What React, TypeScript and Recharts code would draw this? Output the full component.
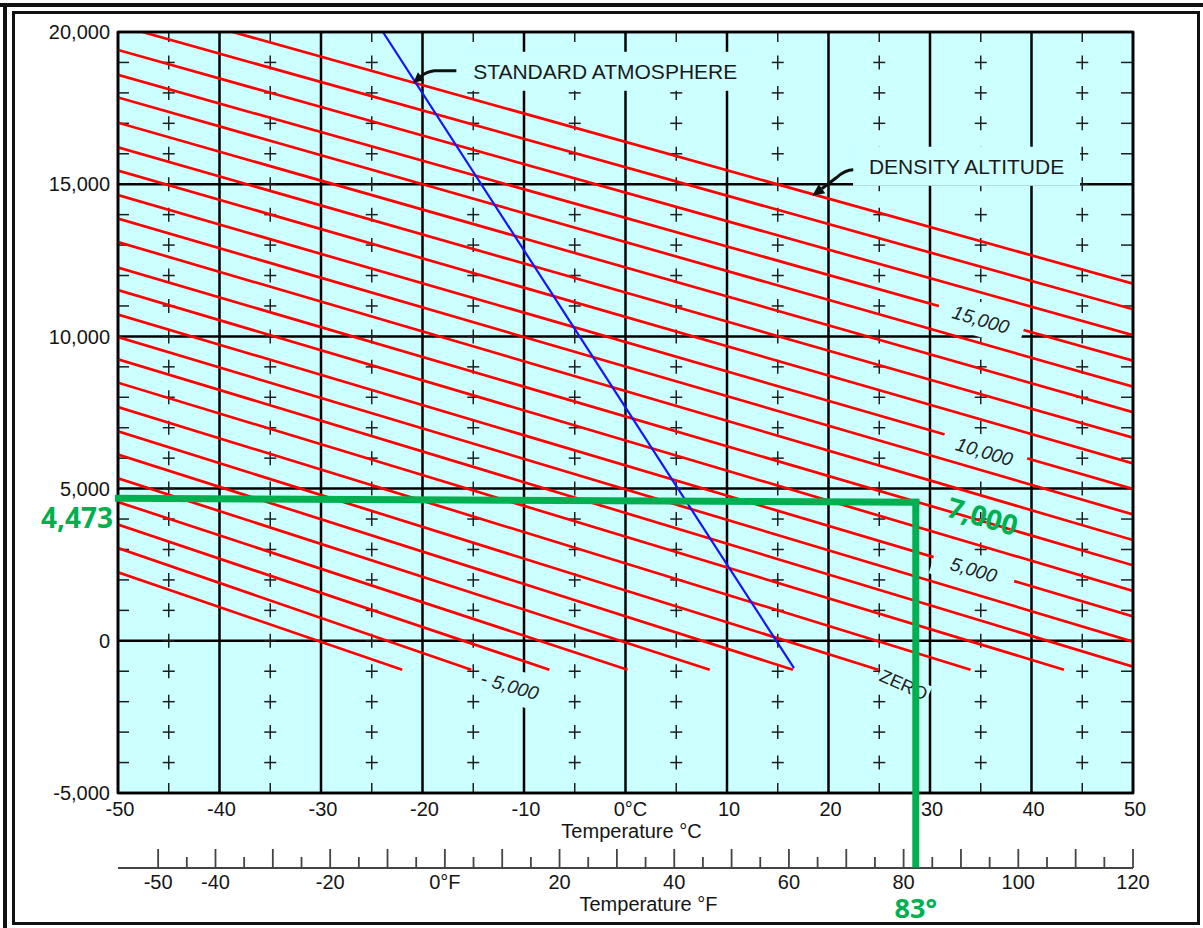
import React from 'react';
import {
  ComposedChart,
  Line,
  Scatter,
  XAxis,
  YAxis,
  CartesianGrid,
  ReferenceLine,
  ReferenceDot,
  ReferenceArea,
} from 'recharts';

const FONT = '"Liberation Sans", Arial, Helvetica, sans-serif';
const GREEN_FONT = '"Open Sans", "Noto Sans", sans-serif';
const BG = '#CCFFFF';
const INK = '#151515';
const GREEN = '#00B050';

// density altitude lines, in thousands of feet, read at both ends
const daLevels = [-6, -5, -4, -3, -2, -1, 0, 1, 2, 3, 4, 5, 6, 7, 8, 9, 10, 11, 12, 13, 14, 15, 16, 17, 18];
const daStartTemp = [
  -50, -50, -50, -50, -50, -50, -50, -50, -50, -50, -50, -50, -50, -50, -50, -50, -50, -50, -50, -50, -50, -50, -50,
  -47.6, -38.7,
];
const daStartAlt = [
  2250, 3050, 3820, 4560, 5340, 6120, 6880, 7680, 8480, 9250, 9980, 10720, 11520, 12260, 13100, 13870, 14640, 15450,
  16210, 17020, 17850, 18590, 19410, 20000, 20000,
];
const daEndTemp = [
  -22.0, -15.2, -7.5, 0.2, 8.3, 16.5, 24.9, 34.0, 43.2, 50, 50, 50, 50, 50, 50, 50, 50, 50, 50, 50, 50, 50, 50, 50, 50,
];
const daEndAlt = [
  -950, -950, -950, -950, -950, -950, -950, -950, -950, -850, -30, 800, 1640, 2480, 3310, 4150, 4990, 5830, 6670, 7510,
  8350, 9200, 10040, 10890, 11730,
];

// standard atmosphere line
const stdTemp = [-23.9, 16.6];
const stdAlt = [20000, -900];

const tempTicksC = [-50, -40, -30, -20, -10, 0, 10, 20, 30, 40, 50];
const tempTicksF = [
  -50, -45, -40, -35, -30, -25, -20, -15, -10, -5, 0, 5, 10, 15, 20, 25, 30, 35, 40, 45, 50, 55, 60, 65, 70, 75, 80, 85,
  90, 95, 100, 105, 110, 115, 120,
];
const tempLabelsF = [-50, -40, -20, 0, 20, 40, 60, 80, 100, 120];
const altTicks = [-5000, 0, 5000, 10000, 15000, 20000];

// small crosses between the grid lines
const markTemps = [-45, -35, -25, -15, -5, 5, 15, 25, 35, 45];
const markAlts = [
  -4000, -3000, -2000, -1000, 0, 1000, 2000, 3000, 4000, 5000, 6000, 7000, 8000, 9000, 10000, 11000, 12000, 13000,
  14000, 15000, 16000, 17000, 18000, 19000,
];

// labels on the density altitude lines
const daLabelText = ['15,000', '10,000', '5,000', '- 5,000', 'ZERO'];
const daLabelTemp = [35.0, 35.35, 34.3, -11.4, 27.4];
const daLabelAlt = [10550, 6210, 2330, -1480, -1450];
const daLabelStyle = [
  { w: 88, h: 34, angle: 16.4, italic: true, size: 19 },
  { w: 86, h: 32, angle: 16.4, italic: true, size: 19 },
  { w: 84, h: 32, angle: 16.4, italic: true, size: 19 },
  { w: 66, h: 34, angle: 16, italic: true, size: 19 },
  { w: 54, h: 20, angle: 24, italic: false, size: 18 },
];

const noteText = ['STANDARD ATMOSPHERE', 'DENSITY ALTITUDE'];
const noteTemp = [-2.0, 33.6];
const noteAlt = [18710, 15590];
const noteBox = [
  { w: 290, h: 39 },
  { w: 227, h: 39 },
];
const arrowTipTemp = [-20.9, 18.4];
const arrowTipAlt = [18330, 14620];

// worked example drawn over the chart in green
const exampleAltText = '4,473';
const exampleDAText = '7,000';
const exampleTempText = '83°';
const exampleTempC = 28.6;
const exampleAltLeft = 4680;
const exampleAltRight = 4550;
const exampleFAxisAlt = -7450;
const exampleDATemp = 35.2;
const exampleDAAlt = 4110;

const daLines = daLevels.map((lvl, i) => ({
  lvl,
  pts: [
    { t: daStartTemp[i], pa: daStartAlt[i] },
    { t: daEndTemp[i], pa: daEndAlt[i] },
  ],
}));
const stdLine = stdTemp.map((t, i) => ({ t, pa: stdAlt[i] }));

const marks: any[] = [];
markTemps.forEach((t) => markAlts.forEach((pa) => marks.push({ t, pa, kind: 'cross' })));
markTemps.forEach((t) => {
  marks.push({ t, pa: 20000, kind: 'top' });
  marks.push({ t, pa: -5000, kind: 'bottom' });
});
markAlts
  .filter((pa) => pa % 5000 !== 0)
  .forEach((pa) => {
    marks.push({ t: -50, pa, kind: 'left' });
    marks.push({ t: 50, pa, kind: 'right' });
  });

const MarkShape = (props: any) => {
  const { cx, cy, payload } = props;
  const k = payload.kind;
  const s = { stroke: '#1e1e1e', strokeWidth: 1.5 };
  if (k === 'cross') {
    return (
      <g {...s}>
        <line x1={cx - 6} x2={cx + 6} y1={cy} y2={cy} />
        <line x1={cx} x2={cx} y1={cy - 7} y2={cy + 7} />
      </g>
    );
  }
  if (k === 'left') return <line {...s} x1={cx} x2={cx + 11} y1={cy} y2={cy} />;
  if (k === 'right') return <line {...s} x1={cx - 12} x2={cx} y1={cy} y2={cy} />;
  if (k === 'top') return <line {...s} x1={cx} x2={cx} y1={cy} y2={cy + 10} />;
  return <line {...s} x1={cx} x2={cx} y1={cy - 10} y2={cy} />;
};

const CTick = ({ x, y, payload }: any) => (
  <text
    x={x + (payload.value === 0 ? 5 : 2)}
    y={y + 23}
    textAnchor="middle"
    fontSize={20}
    fill={INK}
    fontFamily={FONT}
  >
    {payload.value === 0 ? '0°C' : payload.value}
  </text>
);

const FTick = ({ x, y, payload }: any) => {
  const v = payload.value;
  const major = v % 10 === 0;
  return (
    <g>
      <line x1={x} x2={x} y1={y} y2={y - (major ? 19 : 11)} stroke="#444" strokeWidth={1.8} />
      {tempLabelsF.includes(v) && (
        <text x={x} y={y + 21} textAnchor="middle" fontSize={20} fill={INK} fontFamily={FONT}>
          {v === 0 ? '0°F' : v}
        </text>
      )}
    </g>
  );
};

const RotatedLabel = ({ cx, cy, text, st }: any) => (
  <g transform={`translate(${cx},${cy}) rotate(${st.angle})`}>
    <rect x={-st.w / 2} y={-st.h / 2} width={st.w} height={st.h} fill={BG} />
    <text
      x={0}
      y={0}
      textAnchor="middle"
      dominantBaseline="central"
      fontSize={st.size}
      fontStyle={st.italic ? 'italic' : 'normal'}
      fill="#222"
      fontFamily={FONT}
    >
      {text}
    </text>
  </g>
);

const NoteLabel = ({ cx, cy, text, box }: any) => (
  <g>
    <rect x={cx - box.w / 2} y={cy - box.h / 2} width={box.w} height={box.h} fill={BG} />
    <text
      x={cx}
      y={cy}
      textAnchor="middle"
      dominantBaseline="central"
      fontSize={21}
      fill="#1a1a1a"
      fontFamily={FONT}
    >
      {text}
    </text>
  </g>
);

const StdArrow = ({ cx, cy }: any) => (
  <g>
    <path
      d={`M${cx + 43},${cy - 12} L${cx + 21},${cy - 12} Q${cx + 13},${cy - 11} ${cx + 7.5},${cy - 6.5}`}
      stroke="#111"
      strokeWidth={3}
      fill="none"
    />
    <polygon points={`${cx},${cy} ${cx + 11},${cy - 2.5} ${cx + 4.5},${cy - 10.5}`} fill="#111" />
  </g>
);

const DensArrow = ({ cx, cy }: any) => (
  <g>
    <path
      d={`M${cx + 41},${cy - 26} Q${cx + 33},${cy - 26} ${cx + 24},${cy - 18} L${cx + 9.5},${cy - 7}`}
      stroke="#111"
      strokeWidth={3}
      fill="none"
    />
    <polygon points={`${cx},${cy} ${cx + 13},${cy - 2.5} ${cx + 6.5},${cy - 11.5}`} fill="#111" />
  </g>
);

const greenText = {
  fill: GREEN,
  fontFamily: GREEN_FONT,
  fontWeight: 700,
  fontSize: 28,
};

export default function App() {
  return (
    <div style={{ position: 'absolute', left: 0, top: 0, width: 1203, height: 928, background: '#fff', overflow: 'hidden' }}>
      <div style={{ position: 'absolute', left: 0, top: 3, width: 1203, height: 4, background: '#111' }} />
      <div style={{ position: 'absolute', left: 3, top: 3, width: 4, height: 925, background: '#111' }} />
      <div
        style={{
          position: 'absolute',
          left: 12,
          top: 11,
          width: 1188,
          height: 914,
          border: '3px solid #111',
          boxSizing: 'border-box',
        }}
      />
      <div style={{ position: 'absolute', left: 0, top: 0 }}>
        <ComposedChart width={1203} height={928} margin={{ top: 32, right: 70, bottom: 0, left: 0 }}>
          <CartesianGrid
            xAxisId="c"
            yAxisId="a"
            stroke="#000"
            strokeWidth={2.5}
            fill={BG}
            fillOpacity={1}
          />
          <XAxis
            xAxisId="c"
            dataKey="t"
            type="number"
            domain={[-50, 50]}
            ticks={tempTicksC}
            allowDataOverflow
            interval={0}
            height={75}
            axisLine={false}
            tickLine={false}
            tickSize={0}
            tickMargin={0}
            tick={(p: any) => <CTick {...p} />}
            label={{
              value: 'Temperature °C',
              position: 'insideTop',
              offset: 31,
              dx: 6,
              fill: INK,
              fontSize: 20,
              fontFamily: FONT,
            }}
          />
          <XAxis
            xAxisId="f"
            dataKey="f"
            type="number"
            domain={[-57, 120]}
            ticks={tempTicksF}
            allowDataOverflow
            interval={0}
            height={60}
            axisLine={{ stroke: '#444', strokeWidth: 1.8 }}
            tickLine={false}
            tickSize={0}
            tickMargin={0}
            tick={(p: any) => <FTick {...p} />}
            label={{
              value: 'Temperature °F',
              position: 'insideTop',
              offset: 29,
              dx: 23,
              fill: INK,
              fontSize: 20,
              fontFamily: FONT,
            }}
          />
          <YAxis
            yAxisId="a"
            dataKey="pa"
            type="number"
            domain={[-5000, 20000]}
            ticks={altTicks}
            allowDataOverflow
            interval={0}
            width={118}
            axisLine={false}
            tickLine={false}
            tick={{ fontSize: 20, fill: INK, fontFamily: FONT }}
            tickFormatter={(v: number) => v.toLocaleString('en-US')}
          />

          <Scatter
            xAxisId="c"
            yAxisId="a"
            data={marks}
            shape={(p: any) => <MarkShape {...p} />}
            isAnimationActive={false}
            zIndex={300}
          />

          {daLines.map((l) => (
            <Line
              key={`da${l.lvl}`}
              xAxisId="c"
              yAxisId="a"
              data={l.pts}
              dataKey="pa"
              stroke="#FF0000"
              strokeWidth={2.7}
              dot={false}
              activeDot={false}
              isAnimationActive={false}
              zIndex={400}
            />
          ))}
          <Line
            xAxisId="c"
            yAxisId="a"
            data={stdLine}
            dataKey="pa"
            stroke="#1414FF"
            strokeWidth={2.2}
            dot={false}
            activeDot={false}
            isAnimationActive={false}
            zIndex={410}
          />

          <ReferenceArea
            xAxisId="c"
            yAxisId="a"
            x1={-50}
            x2={50}
            y1={-5000}
            y2={20000}
            fill="none"
            fillOpacity={0}
            stroke="#000"
            strokeWidth={2.6}
            ifOverflow="visible"
            zIndex={650}
          />

          {daLabelText.map((txt, i) => (
            <ReferenceDot
              key={`dal${i}`}
              xAxisId="c"
              yAxisId="a"
              x={daLabelTemp[i]}
              y={daLabelAlt[i]}
              ifOverflow="visible"
              zIndex={700}
              shape={(p: any) => <RotatedLabel cx={p.cx} cy={p.cy} text={txt} st={daLabelStyle[i]} />}
            />
          ))}
          {noteText.map((txt, i) => (
            <ReferenceDot
              key={`note${i}`}
              xAxisId="c"
              yAxisId="a"
              x={noteTemp[i]}
              y={noteAlt[i]}
              ifOverflow="visible"
              zIndex={700}
              shape={(p: any) => <NoteLabel cx={p.cx} cy={p.cy} text={txt} box={noteBox[i]} />}
            />
          ))}
          <ReferenceDot
            xAxisId="c"
            yAxisId="a"
            x={arrowTipTemp[0]}
            y={arrowTipAlt[0]}
            ifOverflow="visible"
            zIndex={800}
            shape={(p: any) => <StdArrow cx={p.cx} cy={p.cy} />}
          />
          <ReferenceDot
            xAxisId="c"
            yAxisId="a"
            x={arrowTipTemp[1]}
            y={arrowTipAlt[1]}
            ifOverflow="visible"
            zIndex={800}
            shape={(p: any) => <DensArrow cx={p.cx} cy={p.cy} />}
          />

          <ReferenceLine
            xAxisId="c"
            yAxisId="a"
            segment={[
              { x: -50.3, y: exampleAltLeft },
              { x: exampleTempC + 0.35, y: exampleAltRight },
            ]}
            stroke={GREEN}
            strokeWidth={7}
            ifOverflow="visible"
            zIndex={900}
          />
          <ReferenceLine
            xAxisId="c"
            yAxisId="a"
            segment={[
              { x: exampleTempC, y: exampleAltRight + 115 },
              { x: exampleTempC, y: exampleFAxisAlt },
            ]}
            stroke={GREEN}
            strokeWidth={7}
            ifOverflow="visible"
            zIndex={900}
          />
          <ReferenceDot
            xAxisId="c"
            yAxisId="a"
            x={-50.3}
            y={exampleAltLeft}
            ifOverflow="visible"
            zIndex={950}
            shape={(p: any) => (
              <text x={p.cx - 2} y={p.cy + 19} textAnchor="end" dominantBaseline="central" {...greenText}>
                {exampleAltText}
              </text>
            )}
          />
          <ReferenceDot
            xAxisId="c"
            yAxisId="a"
            x={exampleDATemp}
            y={exampleDAAlt}
            ifOverflow="visible"
            zIndex={950}
            shape={(p: any) => (
              <text
                x={0}
                y={0}
                transform={`translate(${p.cx},${p.cy}) rotate(16)`}
                textAnchor="middle"
                dominantBaseline="central"
                {...greenText}
              >
                {exampleDAText}
              </text>
            )}
          />
          <ReferenceDot
            xAxisId="c"
            yAxisId="a"
            x={exampleTempC}
            y={exampleFAxisAlt}
            ifOverflow="visible"
            zIndex={950}
            shape={(p: any) => (
              <text x={p.cx} y={p.cy + 40} textAnchor="middle" dominantBaseline="central" {...greenText} fontSize={27}>
                {exampleTempText}
              </text>
            )}
          />
        </ComposedChart>
      </div>
    </div>
  );
}
